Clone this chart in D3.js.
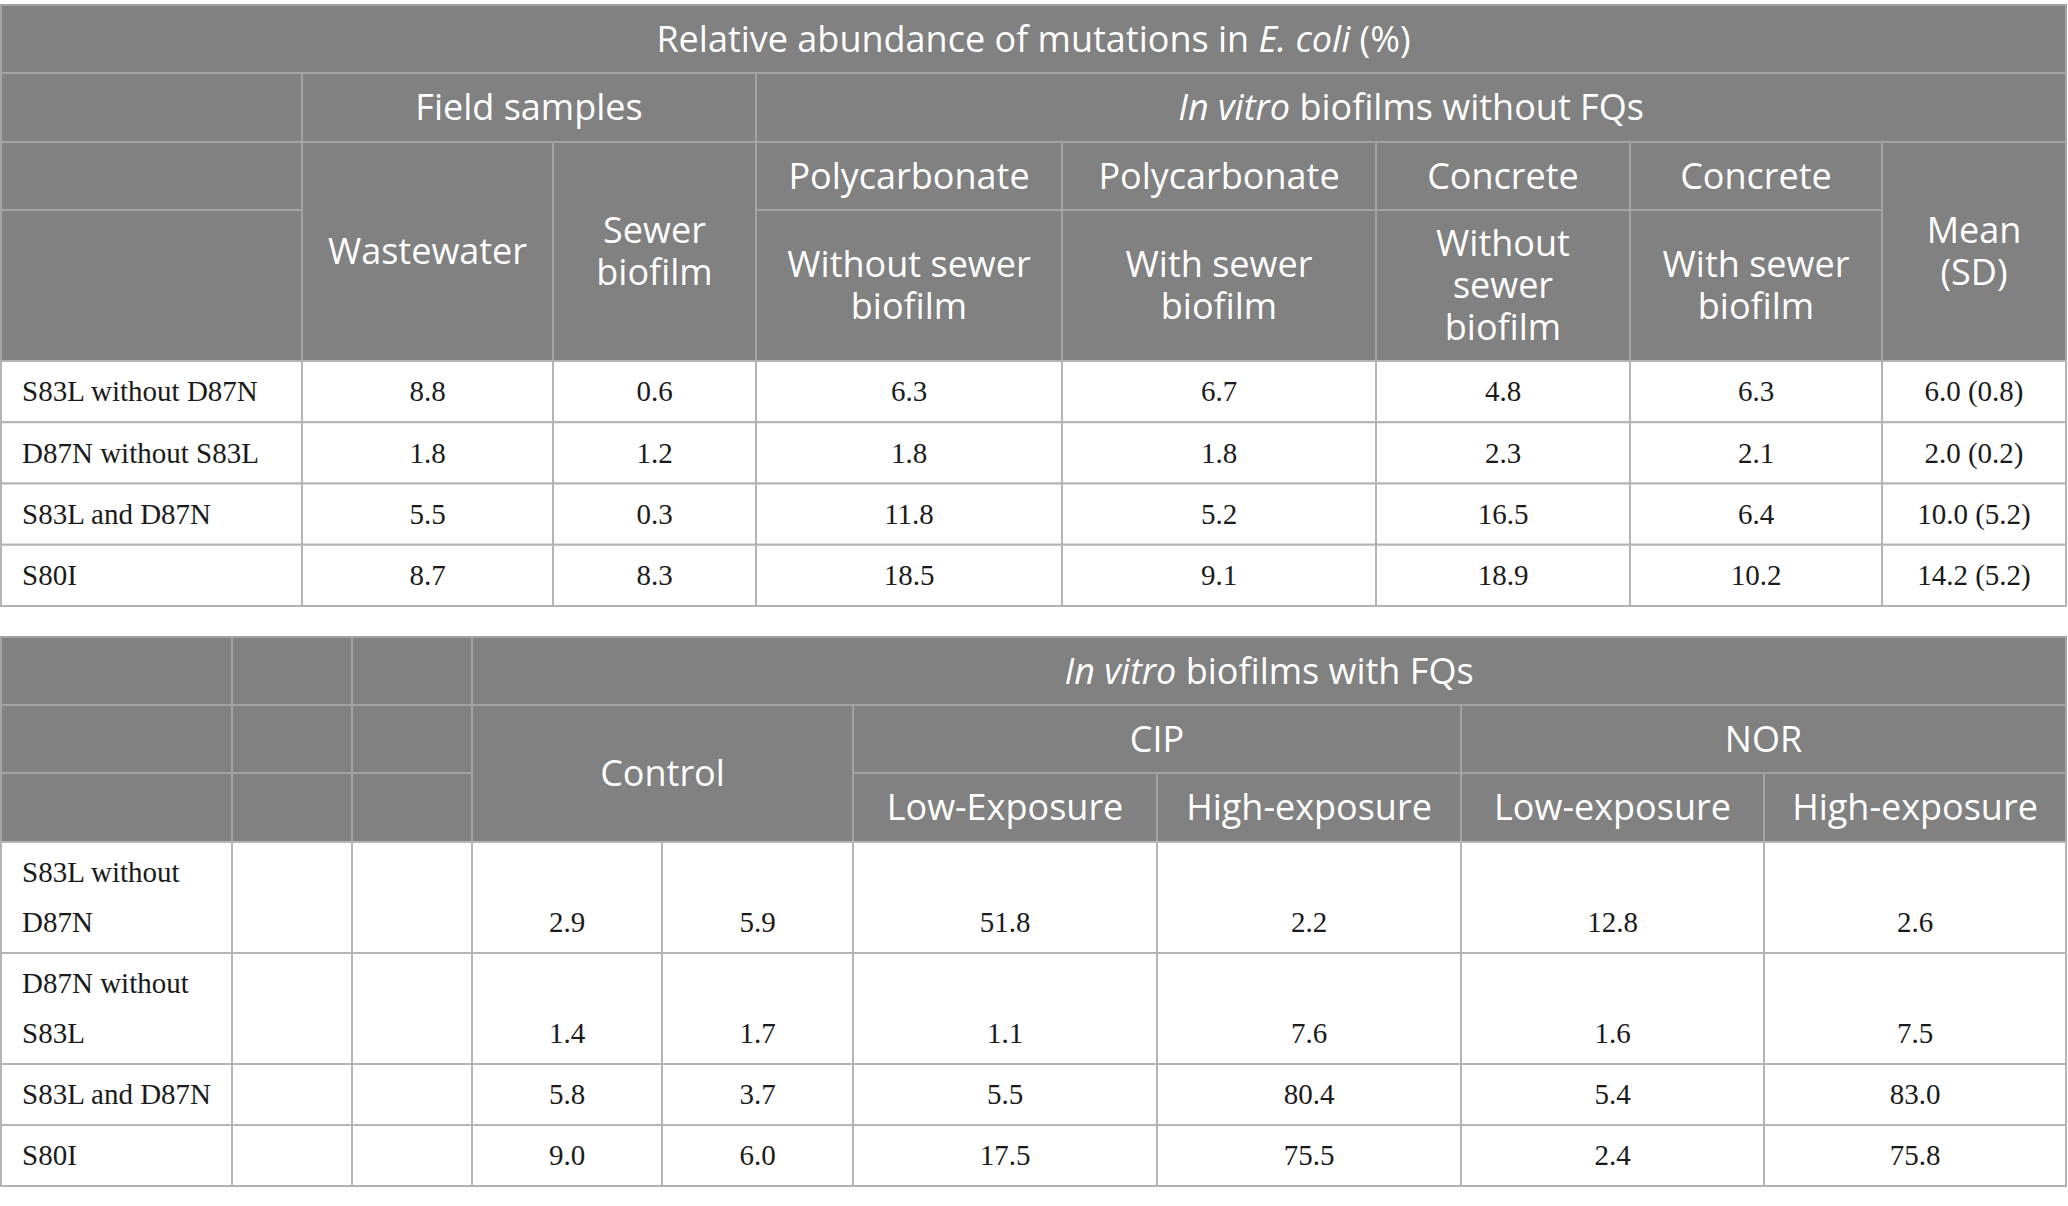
<!DOCTYPE html>
<html><head><meta charset="utf-8">
<script src="https://cdn.jsdelivr.net/npm/d3@7"></script>
<style>
html,body{margin:0;padding:0;background:#fff;}
svg{display:block;}
</style></head><body>
<div id="chart"></div>
<script>
// ---- data ----
const mutations = ["S83L without D87N", "D87N without S83L", "S83L and D87N", "S80I"];
// same labels as they wrap in the narrow first column of the lower table
const mutationsWrapped = [["S83L without", "D87N"], ["D87N without", "S83L"], ["S83L and D87N"], ["S80I"]];

// upper table: field samples + in vitro biofilms without FQs
const tableTitle = "Relative abundance of mutations in *E. coli* (%)";
const groupsNoFQ = ["Field samples", "*In vitro* biofilms without FQs"];
const fieldSamples = [["Wastewater"], ["Sewer", "biofilm"]];
const materials = ["Polycarbonate", "Polycarbonate", "Concrete", "Concrete"];
const sewerConditions = [["Without sewer", "biofilm"], ["With sewer", "biofilm"], ["Without", "sewer", "biofilm"], ["With sewer", "biofilm"]];
const meanLabel = ["Mean", "(SD)"];

const wastewater      = [8.8, 1.8, 5.5, 8.7];
const sewerBiofilm    = [0.6, 1.2, 0.3, 8.3];
const pcWithout       = [6.3, 1.8, 11.8, 18.5];
const pcWith          = [6.7, 1.8, 5.2, 9.1];
const concreteWithout = [4.8, 2.3, 16.5, 18.9];
const concreteWith    = [6.3, 2.1, 6.4, 10.2];
const meanNoFQ        = [6.0, 2.0, 10.0, 14.2];
const sdNoFQ          = [0.8, 0.2, 5.2, 5.2];

// lower table: in vitro biofilms with FQs
const groupWithFQ = "*In vitro* biofilms with FQs";
const controlLabel = "Control";
const drugs = ["CIP", "NOR"];
const exposures = ["Low-Exposure", "High-exposure", "Low-exposure", "High-exposure"];
const control1 = [2.9, 1.4, 5.8, 9.0];
const control2 = [5.9, 1.7, 3.7, 6.0];
const cipLow   = [51.8, 1.1, 5.5, 17.5];
const cipHigh  = [2.2, 7.6, 80.4, 75.5];
const norLow   = [12.8, 1.6, 5.4, 2.4];
const norHigh  = [2.6, 7.5, 83.0, 75.8];

// ---- layout ----
const W = 2068, H = 1206;
const headFill = "#808180", headLine = "#a2a3a2", bodyLine = "#b4b4b4";
const headFont = "'Open Sans', 'Noto Sans', sans-serif", headSize = 36, headLead = 42;
const bodyFont = "'Liberation Serif', 'DejaVu Serif', serif", bodySize = 29;

const svg = d3.select('#chart').append('svg')
  .attr('width', W).attr('height', H);

// column edges
const xTop = d3.scaleOrdinal().domain(d3.range(9)).range([1, 302, 553, 756, 1062, 1376, 1630, 1882, 2066]);
const xBot = d3.scaleOrdinal().domain(d3.range(10)).range([1, 232, 352, 472, 662, 853, 1157, 1461, 1764, 2066]);
// header row edges
const yTopHead = d3.scaleOrdinal().domain(d3.range(5)).range([5, 73, 142, 210, 361]);
const yBotHead = d3.scaleOrdinal().domain(d3.range(4)).range([637, 705, 773, 842]);
// upper table body rows
const yTopBody = d3.scaleBand().domain(mutations).range([361, 606]);
// lower table body rows grow with the wrapped label
const rowBase = 61, rowLead = 50;
const botHeights = mutationsWrapped.map(l => rowBase + rowLead * (l.length - 1));
const botTops = botHeights.map((h, i) => 842 + d3.sum(botHeights.slice(0, i)));
const yBotBody = d3.scaleOrdinal().domain(mutations).range(botTops);
const hBotBody = d3.scaleOrdinal().domain(mutations).range(botHeights);

// write "*italic* rest" into a text element
function richText(sel, str) {
  str.split('*').forEach((part, i) => {
    if (!part) return;
    sel.append('tspan').text(part).attr('font-style', i % 2 ? 'italic' : 'normal');
  });
}

function headCell(x, c0, c1, y, r0, r1, lines) {
  const x0 = x(c0), x1 = x(c1), y0 = y(r0), y1 = y(r1);
  svg.append('rect')
    .attr('x', x0).attr('y', y0).attr('width', x1 - x0).attr('height', y1 - y0)
    .attr('fill', headFill).attr('stroke', headLine).attr('stroke-width', 2);
  if (!lines) return;
  const cy = (y0 + y1) / 2 - (lines.length - 1) * headLead / 2;
  lines.forEach((ln, i) => {
    const t = svg.append('text')
      .attr('x', (x0 + x1) / 2).attr('y', cy + i * headLead + headSize * 0.36)
      .attr('text-anchor', 'middle')
      .attr('font-family', headFont).attr('font-size', headSize)
      .attr('fill', '#fff');
    richText(t, ln);
  });
}

function bodyCell(x0, x1, y0, h, lines, anchor, lastOnly) {
  svg.append('rect')
    .attr('x', x0).attr('y', y0).attr('width', x1 - x0).attr('height', h)
    .attr('fill', '#fff').attr('stroke', bodyLine).attr('stroke-width', 2);
  if (!lines) return;
  lines.forEach((ln, i) => {
    svg.append('text')
      .attr('x', anchor === 'start' ? x0 + 21 : (x0 + x1) / 2)
      .attr('y', y0 + rowBase / 2 + (lastOnly ? lastOnly : i) * rowLead + bodySize * 0.34)
      .attr('text-anchor', anchor)
      .attr('font-family', bodyFont).attr('font-size', bodySize)
      .attr('fill', '#1a1a1a')
      .text(ln);
  });
}

// ---- upper table header ----
headCell(xTop, 0, 8, yTopHead, 0, 1, [tableTitle]);
headCell(xTop, 0, 1, yTopHead, 1, 2, null);
headCell(xTop, 1, 3, yTopHead, 1, 2, [groupsNoFQ[0]]);
headCell(xTop, 3, 8, yTopHead, 1, 2, [groupsNoFQ[1]]);
headCell(xTop, 0, 1, yTopHead, 2, 3, null);
headCell(xTop, 0, 1, yTopHead, 3, 4, null);
fieldSamples.forEach((f, i) => headCell(xTop, 1 + i, 2 + i, yTopHead, 2, 4, f));
materials.forEach((m, i) => headCell(xTop, 3 + i, 4 + i, yTopHead, 2, 3, [m]));
sewerConditions.forEach((c, i) => headCell(xTop, 3 + i, 4 + i, yTopHead, 3, 4, c));
headCell(xTop, 7, 8, yTopHead, 2, 4, meanLabel);

// ---- upper table body ----
const fmt = d3.format('.1f');
const topSeries = [wastewater, sewerBiofilm, pcWithout, pcWith, concreteWithout, concreteWith];
mutations.forEach((m, r) => {
  const y0 = yTopBody(m), h = yTopBody.bandwidth();
  bodyCell(xTop(0), xTop(1), y0, h, [m], 'start');
  topSeries.forEach((s, c) => bodyCell(xTop(1 + c), xTop(2 + c), y0, h, [fmt(s[r])], 'middle'));
  bodyCell(xTop(7), xTop(8), y0, h, [`${fmt(meanNoFQ[r])} (${fmt(sdNoFQ[r])})`], 'middle');
});

// ---- lower table header ----
[0, 1, 2].forEach(c => [0, 1, 2].forEach(r => headCell(xBot, c, c + 1, yBotHead, r, r + 1, null)));
headCell(xBot, 3, 9, yBotHead, 0, 1, [groupWithFQ]);
headCell(xBot, 3, 5, yBotHead, 1, 3, [controlLabel]);
drugs.forEach((d, i) => headCell(xBot, 5 + 2 * i, 7 + 2 * i, yBotHead, 1, 2, [d]));
exposures.forEach((e, i) => headCell(xBot, 5 + i, 6 + i, yBotHead, 2, 3, [e]));

// ---- lower table body ----
const botSeries = [control1, control2, cipLow, cipHigh, norLow, norHigh];
mutations.forEach((m, r) => {
  const y0 = yBotBody(m), h = hBotBody(m), last = mutationsWrapped[r].length - 1;
  bodyCell(xBot(0), xBot(1), y0, h, mutationsWrapped[r], 'start');
  bodyCell(xBot(1), xBot(2), y0, h, null);
  bodyCell(xBot(2), xBot(3), y0, h, null);
  botSeries.forEach((s, c) => bodyCell(xBot(3 + c), xBot(4 + c), y0, h, [fmt(s[r])], 'middle', last));
});
</script>
</body></html>
